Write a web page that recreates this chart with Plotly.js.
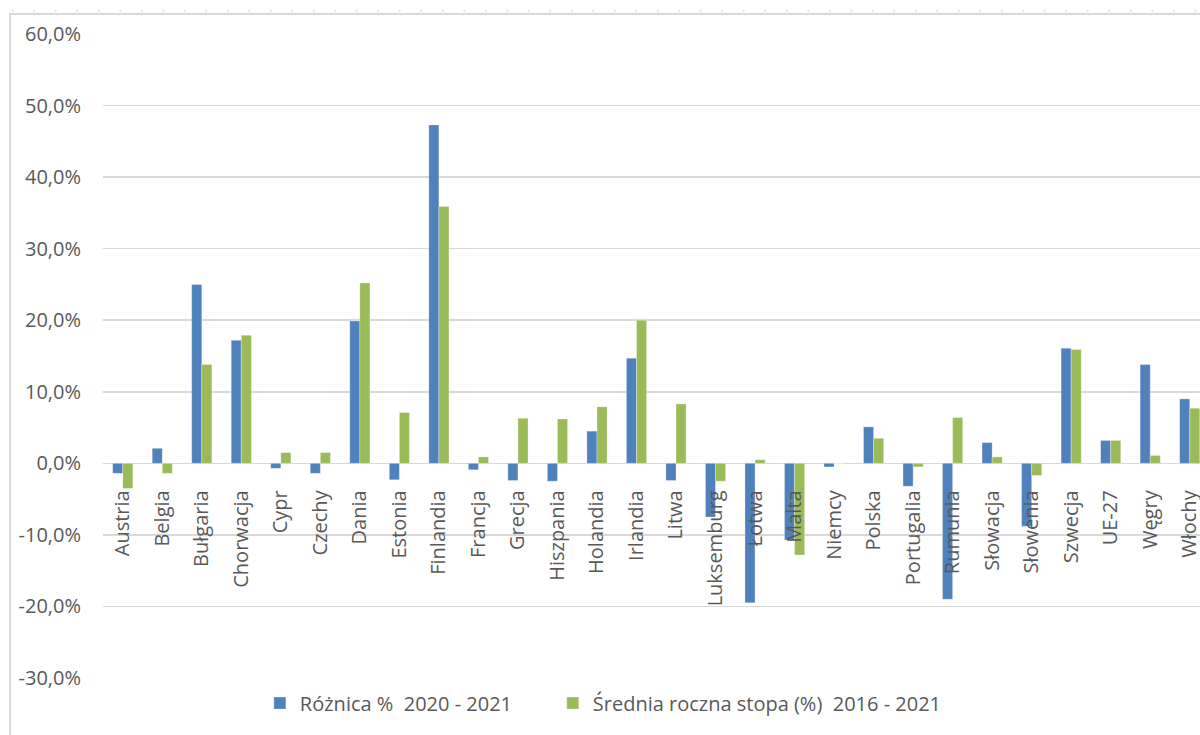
<!DOCTYPE html>
<html>
<head>
<meta charset="utf-8">
<script src="https://cdn.plot.ly/plotly-3.0.1.min.js"></script>
<style>
  html, body { margin:0; padding:0; width:1200px; height:735px; overflow:hidden;
    background-color:#ffffff;
    background-image: radial-gradient(circle, #dbe5f1 1px, transparent 1.3px);
    background-size: 21.5px 21.5px; background-position: 2px 0px; }
  #frame { position:absolute; left:9px; top:13px; width:1300px; height:800px;
    background:#ffffff; border:2px solid #d9d9d9; }
  #chart { position:absolute; left:0; top:0; width:1200px; height:735px; }
</style>
</head>
<body>
<div id="frame"></div>
<div id="chart"></div>
<script>
const categories = ['Austria','Belgia','Bułgaria','Chorwacja','Cypr','Czechy','Dania','Estonia','Finlandia','Francja','Grecja','Hiszpania','Holandia','Irlandia','Litwa','Luksemburg','Łotwa','Malta','Niemcy','Polska','Portugalia','Rumunia','Słowacja','Słowenia','Szwecja','UE-27','Węgry','Włochy'];
const diff2020_2021 = [-1.4, 2.1, 25.0, 17.2, -0.7, -1.4, 19.9, -2.3, 47.3, -0.9, -2.4, -2.5, 4.5, 14.7, -2.4, -7.5, -19.5, -10.7, -0.5, 5.1, -3.2, -19.0, 2.9, -8.8, 16.1, 3.2, 13.8, 9.0];
const avgRate2016_2021 = [-3.5, -1.4, 13.8, 17.9, 1.5, 1.5, 25.2, 7.1, 35.9, 0.9, 6.3, 6.2, 7.9, 20.0, 8.3, -2.5, 0.5, -12.8, 0.0, 3.5, -0.5, 6.4, 0.9, -1.7, 15.9, 3.2, 1.1, 7.7];
const seriesNames = ['Różnica %\u00a0 2020 - 2021', 'Średnia roczna stopa (%)\u00a0 2016 - 2021'];
const yTickVals = [-30, -20, -10, 0, 10, 20, 30, 40, 50, 60];
const yTickText = ['-30,0%', '-20,0%', '-10,0%', '0,0%', '10,0%', '20,0%', '30,0%', '40,0%', '50,0%', '60,0%'];

const font = 'Open Sans, Noto Sans, sans-serif';
const txtColor = '#595959';

const traces = [
  { type:'bar', name: seriesNames[0], x: categories, y: diff2020_2021, legend:'legend',
    marker:{ color:'#4f81bd', line:{ color:'rgba(255,255,255,0.6)', width:0.5 } }, hoverinfo:'x+y' },
  { type:'bar', name: seriesNames[1], x: categories, y: avgRate2016_2021, legend:'legend2',
    marker:{ color:'#9bbb59', line:{ color:'rgba(255,255,255,0.6)', width:0.5 } }, hoverinfo:'x+y' }
];

const legendBase = {
  orientation:'h', xanchor:'left', y:-0.039, yanchor:'middle',
  font:{ family:font, size:20, color:txtColor },
  bgcolor:'rgba(0,0,0,0)'
};

const layout = {
  width:1200, height:735,
  paper_bgcolor:'rgba(0,0,0,0)', plot_bgcolor:'rgba(0,0,0,0)',
  margin:{ l:103, r:0, t:34, b:57, pad:0 },
  barmode:'group', bargap:0.49, bargroupgap:0,
  font:{ family:font, color:txtColor, size:20 },
  xaxis:{
    type:'category', range:[-0.5, 27.26],
    anchor:'free', position: 30/90,
    showgrid:false, zeroline:false, showline:false, ticks:'',
    tickangle:-90, ticklabelstandoff:22,
    tickfont:{ family:font, size:20, color:txtColor }
  },
  yaxis:{
    range:[-30, 60], tickvals:yTickVals, ticktext:yTickText,
    showgrid:true, gridcolor:'#d9d9d9', gridwidth:1.5,
    zeroline:false, showline:false, ticks:'', ticklabelstandoff:21,
    tickfont:{ family:font, size:20, color:txtColor }
  },
  showlegend:true,
  legend: Object.assign({}, legendBase, { x:0.143 }),
  legend2: Object.assign({}, legendBase, { x:0.410 })
};

Plotly.newPlot('chart', traces, layout, { displayModeBar:false, staticPlot:true });
</script>
</body>
</html>
